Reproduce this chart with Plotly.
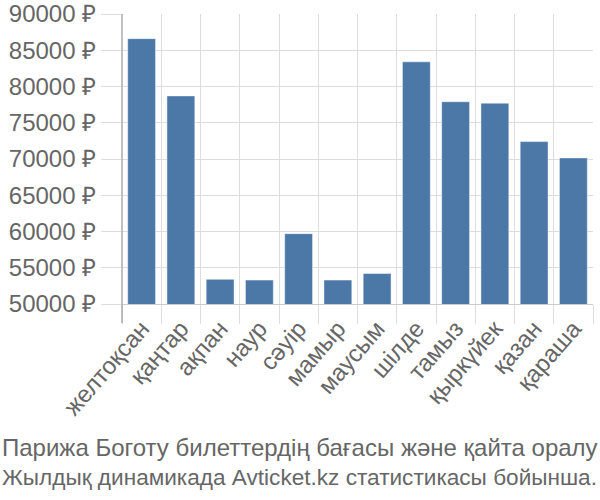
import plotly.graph_objects as go

months = ["желтоқсан", "қаңтар", "ақпан", "наур", "сәуір", "мамыр", "маусым",
          "шілде", "тамыз", "қыркүйек", "қазан", "қараша"]
prices = [86600, 78700, 53400, 53300, 59700, 53300, 54200,
          83400, 77900, 77700, 72400, 70150]
y_ticks = [50000, 55000, 60000, 65000, 70000, 75000, 80000, 85000, 90000]
caption_lines = ["Парижа Боготу билеттердің бағасы және қайта оралу",
                 "Жылдық динамикада Avticket.kz статистикасы бойынша."]

W, H = 600, 500
L, R, T, B = 122, 7, 14, 196
pw, ph = W - L - R, H - T - B

fig = go.Figure(go.Bar(
    x=months, y=prices,
    marker=dict(color="#4c78a8", line=dict(color="rgba(255,255,255,0.45)", width=1)),
))

font = "Liberation Sans, Arial, sans-serif"
fig.update_layout(
    width=W, height=H,
    margin=dict(l=L, r=R, t=T, b=B, autoexpand=False),
    plot_bgcolor="white", paper_bgcolor="white",
    bargap=0.29, showlegend=False,
    font=dict(family=font, color="#666", size=24),
)
fig.update_yaxes(
    range=[50000, 90000], tickvals=y_ticks,
    ticktext=[f"{v} ₽" for v in y_ticks],
    showgrid=True, gridcolor="#ddd", gridwidth=1,
    ticks="outside", ticklen=20, tickcolor="#ddd", tickwidth=1,
    zeroline=False, showline=False, automargin=False,
    tickfont=dict(size=24, color="#666"),
)
fig.update_xaxes(
    tickson="boundaries", showgrid=True, gridcolor="#ddd", gridwidth=1,
    ticks="outside", ticklen=19, tickcolor="#ddd", tickwidth=1,
    tickangle=-49, tickfont=dict(size=24, color="#666"),
    showline=True, linecolor="#ccc", linewidth=1, automargin=False,
)
# left axis line, extending down through tick zone
fig.add_shape(type="line", xref="paper", yref="paper", x0=0, x1=0,
              y0=-19 / ph, y1=1, line=dict(color="#aaa", width=1.5))

for line, yc, fs in zip(caption_lines, [447, 477], [24, 22.6]):
    fig.add_annotation(text=line, xref="paper", yref="paper",
                       x=-L / pw, y=(H - B - yc) / ph, xanchor="left", yanchor="middle",
                       showarrow=False, font=dict(size=fs, color="#666", family=font))

fig.write_html("out.html", config={"displayModeBar": False},
               post_script="document.body.style.margin='0';")
